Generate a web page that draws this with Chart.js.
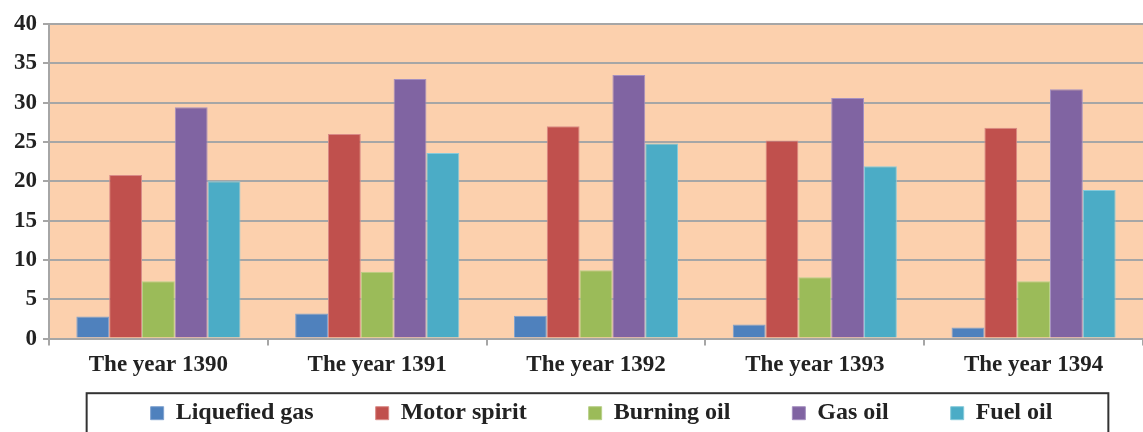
<!DOCTYPE html>
<html>
<head>
<meta charset="utf-8">
<script src="https://cdn.jsdelivr.net/npm/chart.js@4/dist/chart.umd.min.js"></script>
<style>
  html, body { margin: 0; padding: 0; background: #fff; }
  #wrap { width: 1143px; height: 432px; position: relative; }
</style>
</head>
<body>
<div id="wrap"><canvas id="fuelChart"></canvas></div>
<script>
// data
const years = ["The year 1390", "The year 1391", "The year 1392", "The year 1393", "The year 1394"];
const liquefiedGas = [2.8, 3.2, 2.9, 1.8, 1.4];
const motorSpirit = [20.8, 26.0, 27.0, 25.2, 26.8];
const burningOil = [7.3, 8.5, 8.7, 7.8, 7.3];
const gasOil = [29.4, 33.0, 33.5, 30.6, 31.7];
const fuelOil = [20.0, 23.6, 24.8, 21.9, 18.9];
const yTicks = [0, 5, 10, 15, 20, 25, 30, 35, 40];

const serif = "'Liberation Serif', 'Times New Roman', serif";
const legendGap = 62;     // jarak antar item legenda
const legendShiftX = 26;  // legenda sedikit bergeser ke kanan seperti aslinya

// latar belakang area plot + kotak legenda
const plotBg = {
    id: 'plotBg',
    beforeDraw(chart) {
        const { ctx, chartArea } = chart;
        ctx.save();
        ctx.fillStyle = '#FCD0AD';
        ctx.fillRect(chartArea.left, chartArea.top, chartArea.right - chartArea.left, chartArea.bottom - chartArea.top);
        ctx.restore();
    },
    afterDraw(chart) {
        const boxes = chart.legend.legendHitBoxes;
        if (!boxes || !boxes.length) return;
        const left = Math.min(...boxes.map(b => b.left)) - 64 + legendShiftX;
        const right = Math.max(...boxes.map(b => b.left + b.width)) + 56 + legendShiftX;
        const ctx = chart.ctx;
        ctx.save();
        ctx.strokeStyle = '#333333';
        ctx.lineWidth = 2;
        ctx.strokeRect(left, chart.legend.top + 8, right - left, 80);
        ctx.restore();
    }
};

// legenda: jarak horizontal lebar tapi tinggi tetap rapat
const legendSpacing = {
    id: 'legendSpacing',
    beforeLayout(chart) {
        const lg = chart.legend;
        if (!lg || lg._patched) return;
        lg._patched = true;
        const fit0 = lg.fit.bind(lg);
        lg.fit = function () {
            fit0();
            this.height = this.options.labels.font.size * 1.2 + 18;
        };
        const draw0 = lg.draw.bind(lg);
        lg.draw = function () {
            const shift = this.options.labels.padding - 16;
            this.top -= shift;
            this.left += legendShiftX;
            this.right += legendShiftX;
            draw0();
            this.top += shift;
            this.left -= legendShiftX;
            this.right -= legendShiftX;
        };
    }
};

function bar(label, data, color, edge) {
    return {
        label: label,
        data: data,
        backgroundColor: color,
        borderColor: edge,
        borderWidth: 1,
        categoryPercentage: 0.75,
        barPercentage: 1.0
    };
}

new Chart(document.getElementById('fuelChart'), {
    type: 'bar',
    data: {
        labels: years,
        datasets: [
            bar('Liquefied gas', liquefiedGas, '#4F81BD', '#7FA2D0'),
            bar('Motor spirit', motorSpirit, '#C0504D', '#D98A87'),
            bar('Burning oil', burningOil, '#9BBB59', '#B8D088'),
            bar('Gas oil', gasOil, '#8064A2', '#A590C0'),
            bar('Fuel oil', fuelOil, '#4BACC6', '#86CADB')
        ]
    },
    options: {
        responsive: true,
        maintainAspectRatio: false,
        animation: false,
        layout: { padding: { top: 24, right: 0, left: 8, bottom: 0 } },
        plugins: {
            legend: {
                position: 'bottom',
                labels: {
                    boxWidth: 13,
                    boxHeight: 13,
                    padding: legendGap,
                    color: '#222',
                    font: { family: serif, size: 24, weight: 'bold' }
                }
            },
            tooltip: { enabled: false }
        },
        scales: {
            x: {
                grid: {
                    offset: true,
                    drawOnChartArea: false,
                    color: '#A6A6A6',
                    lineWidth: 2,
                    tickLength: 7
                },
                border: { color: '#A6A6A6', width: 2 },
                ticks: {
                    color: '#222',
                    padding: 6,
                    font: { family: serif, size: 23, weight: 'bold' }
                }
            },
            y: {
                min: 0,
                max: 40,
                afterBuildTicks(axis) {
                    axis.ticks = yTicks.map(v => ({ value: v }));
                },
                grid: {
                    color: '#A6A6A6',
                    lineWidth: 2,
                    tickLength: 6
                },
                border: { color: '#A6A6A6', width: 2 },
                ticks: {
                    color: '#222',
                    padding: 6,
                    font: { family: serif, size: 23, weight: 'bold' }
                }
            }
        }
    },
    plugins: [plotBg, legendSpacing]
});
</script>
</body>
</html>
